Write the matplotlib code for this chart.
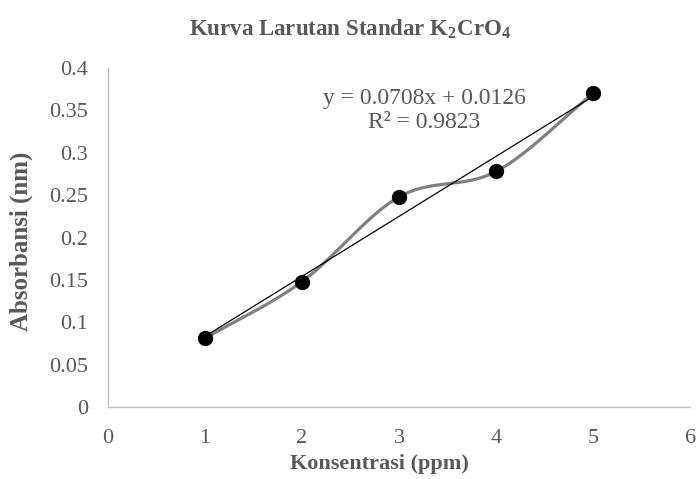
import numpy as np
import matplotlib.pyplot as plt

plt.rcParams['font.family'] = ['Liberation Serif', 'DejaVu Serif']
plt.rcParams['mathtext.fontset'] = 'custom'
plt.rcParams['mathtext.rm'] = 'Liberation Serif'
plt.rcParams['mathtext.bf'] = 'Liberation Serif:bold'

# data
konsentrasi = [1, 2, 3, 4, 5]
absorbansi = [0.081, 0.148, 0.248, 0.278, 0.370]
slope = 0.0708
intercept = 0.0126
r2 = 0.9823

TEXT = '#595959'


def smooth(xs, ys, n=40):
    # Catmull-Rom style smoothing, like Excel's "smoothed line"
    xs = np.asarray(xs, float); ys = np.asarray(ys, float)
    px = np.concatenate([[2 * xs[0] - xs[1]], xs, [2 * xs[-1] - xs[-2]]])
    py = np.concatenate([[2 * ys[0] - ys[1]], ys, [2 * ys[-1] - ys[-2]]])
    outx = []; outy = []
    t = np.linspace(0, 1, n)
    for i in range(1, len(px) - 2):
        for p, out in ((px, outx), (py, outy)):
            p0, p1, p2, p3 = p[i - 1], p[i], p[i + 1], p[i + 2]
            out.extend(0.5 * ((2 * p1) + (-p0 + p2) * t +
                              (2 * p0 - 5 * p1 + 4 * p2 - p3) * t ** 2 +
                              (-p0 + 3 * p1 - 3 * p2 + p3) * t ** 3))
    return outx, outy


fig = plt.figure(figsize=(7, 4.79), dpi=100)
ax = fig.add_axes([0.154, 0.150, 0.832, 0.708])

sx, sy = smooth(konsentrasi, absorbansi)
ax.plot(sx, sy, color='#808080', lw=2.3, zorder=2)

fx = np.array([konsentrasi[0], konsentrasi[-1]])
ax.plot(fx, slope * fx + intercept, color='black', lw=0.9, zorder=3)

ax.plot(konsentrasi, absorbansi, 'o', color='black', markersize=10, zorder=4)

ax.set_xlim(0, 6)
ax.set_ylim(0, 0.4)
ax.set_xticks(range(0, 7))
ax.set_yticks(np.arange(0, 0.401, 0.05))
ax.set_yticklabels(['0', '0.05', '0.1', '0.15', '0.2', '0.25', '0.3', '0.35', '0.4'])

for s in ['top', 'right']:
    ax.spines[s].set_visible(False)
for s in ['left', 'bottom']:
    ax.spines[s].set_color('#bfbfbf')
    ax.spines[s].set_linewidth(1)
ax.tick_params(length=0, labelsize=16, colors=TEXT)
ax.tick_params(axis='y', pad=14)
ax.tick_params(axis='x', pad=16)

ax.set_xlabel('Konsentrasi (ppm)', fontsize=16, fontweight='bold', color=TEXT)
ax.xaxis.set_label_coords(0.467, -0.138)
ax.set_ylabel('Absorbansi (nm)', fontsize=18, fontweight='bold', color=TEXT)
ax.yaxis.set_label_coords(-0.129, 0.49)

fig.text(0.50, 0.94, r'Kurva Larutan Standar K$_\mathbf{2}$CrO$_\mathbf{4}$',
         ha='center', va='center', fontsize=16.5, fontweight='bold', color=TEXT)

ax.text(3.26, 0.364, 'y = 0.0708x + 0.0126', ha='center', va='center',
        fontsize=17, color=TEXT)
ax.text(3.26, 0.336, 'R² = 0.9823', ha='center', va='center',
        fontsize=17, color=TEXT)

fig.savefig('out.png', dpi=100)
